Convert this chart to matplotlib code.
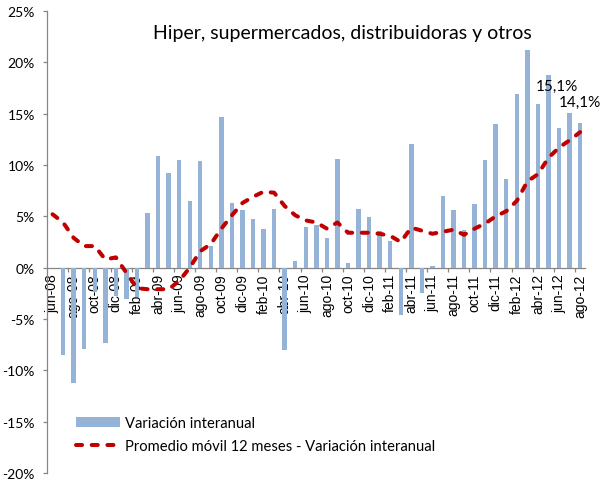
import numpy as np
import matplotlib
matplotlib.use("Agg")
import matplotlib.pyplot as plt
from matplotlib.patches import Patch
from matplotlib.lines import Line2D

# -----------------------------------------------------------------------------
# Data: interannual variation and 12-month moving average (%)
# -----------------------------------------------------------------------------

meses = ["ene", "feb", "mar", "abr", "may", "jun",
         "jul", "ago", "sep", "oct", "nov", "dic"]
periodos = [f"{meses[m]}-{a:02d}" for a in range(8, 13) for m in range(12)]
periodos = periodos[5:5 + 51]          # jun-08 ... ago-12

variacion = [
    np.nan, -8.5, -11.2, -7.9, -2.4, -7.3, -2.8,            # 2008
    -3.1, -2.9, 5.3, 10.9, 9.2, 10.5, 6.5, 10.4, 2.1, 14.7, 6.3, 5.6,   # 2009
    4.7, 3.8, 5.7, -8.0, 0.6, 4.0, 4.2, 2.9, 10.6, 0.5, 5.7, 4.9,       # 2010
    3.6, 2.6, -4.6, 12.0, -2.5, 0.2, 7.0, 5.6, 3.7, 6.2, 10.5, 14.0,    # 2011
    8.6, 16.9, 21.2, 15.9, 18.8, 13.6, 15.1, 14.1,                      # 2012
]

promedio_movil = [
    5.2, 4.4, 2.9, 2.1, 2.1, 0.8, 1.0,
    -0.5, -2.0, -2.1, -2.1, -2.1, -1.3, 0.0, 1.6, 2.3, 3.8, 5.1, 6.3,
    6.9, 7.4, 7.3, 6.0, 5.1, 4.6, 4.4, 3.8, 4.4, 3.4, 3.4, 3.4,
    3.3, 3.1, 2.5, 3.9, 3.6, 3.3, 3.5, 3.7, 3.2, 3.8, 4.3, 5.0,
    5.5, 6.5, 8.4, 9.1, 10.7, 11.7, 12.4, 13.2,
]

# values written on the last two bars
etiquetas = {49: "15,1%", 50: "14,1%"}

titulo = "Hiper, supermercados, distribuidoras y otros"
leyenda = ["Variación interanual",
           "Promedio móvil 12 meses - Variación interanual"]

# -----------------------------------------------------------------------------
# Style
# -----------------------------------------------------------------------------

COLOR_BAR = "#95B3D7"
COLOR_LINE = "#C00000"
COLOR_AXIS = "#868686"
FONT_MAIN = ["Lato", "DejaVu Sans"]
FONT_TICK = ["Liberation Sans", "DejaVu Sans"]

x = np.arange(len(periodos))

fig = plt.figure(figsize=(6.03, 4.85), dpi=100)
ax = fig.add_axes([0.0784, 0.0227, 0.8924, 0.9526])

ax.bar(x, variacion, width=0.42, color=COLOR_BAR, zorder=2)
ax.plot(x, promedio_movil, color=COLOR_LINE, linewidth=2.9,
        dashes=(1.5, 2.4), dash_capstyle="round", zorder=3)

ax.set_xlim(-0.5, len(periodos) - 0.5)
ax.set_ylim(-20, 25)

# axes: only left spine and the zero line
for s in ["top", "right"]:
    ax.spines[s].set_visible(False)
ax.spines["left"].set_color(COLOR_AXIS)
ax.spines["left"].set_linewidth(0.9)
ax.spines["bottom"].set_position(("data", 0))
ax.spines["bottom"].set_color(COLOR_AXIS)
ax.spines["bottom"].set_linewidth(0.9)
ax.spines["bottom"].set_zorder(1)

yticks = np.arange(-20, 26, 5)
ax.set_yticks(yticks)
ax.set_yticklabels([f"{v}%" for v in yticks], fontsize=10, family=FONT_MAIN)
ax.tick_params(axis="y", direction="out", length=3, width=0.9,
               color=COLOR_AXIS, pad=6)

ax.set_xticks(x[::2])
ax.set_xticklabels(periodos[::2], rotation=90, fontsize=10,
                   family=FONT_TICK)
ax.set_xticks(np.arange(1.5, len(periodos) - 1, 2), minor=True)
ax.tick_params(axis="x", which="major", length=0, pad=4)
ax.tick_params(axis="x", which="minor", direction="out", length=3,
               width=0.9, color=COLOR_AXIS)

# data labels for the last two months
ax.text(49 - 1.2, variacion[49] + 1.9, etiquetas[49], ha="center",
        va="bottom", fontsize=11, family=FONT_MAIN)
ax.text(50, variacion[50] + 1.4, etiquetas[50], ha="center",
        va="bottom", fontsize=11, family=FONT_MAIN)

fig.text(0.567, 0.93, titulo, ha="center", va="center",
         fontsize=14, family=FONT_MAIN)

handles = [Patch(facecolor=COLOR_BAR, edgecolor="none"),
           Line2D([0], [0], color=COLOR_LINE, linewidth=2.9,
                  dashes=(1.5, 2.4), dash_capstyle="round")]
ax.legend(handles, leyenda, loc="upper left",
          bbox_to_anchor=(76 / 603, 1 - 417 / 485),
          bbox_transform=fig.transFigure, frameon=False,
          prop={"family": FONT_MAIN, "size": 10.6},
          handlelength=3.0, handletextpad=0.35, borderpad=0,
          borderaxespad=0, labelspacing=0.6)

fig.savefig("out.png", dpi=100)
